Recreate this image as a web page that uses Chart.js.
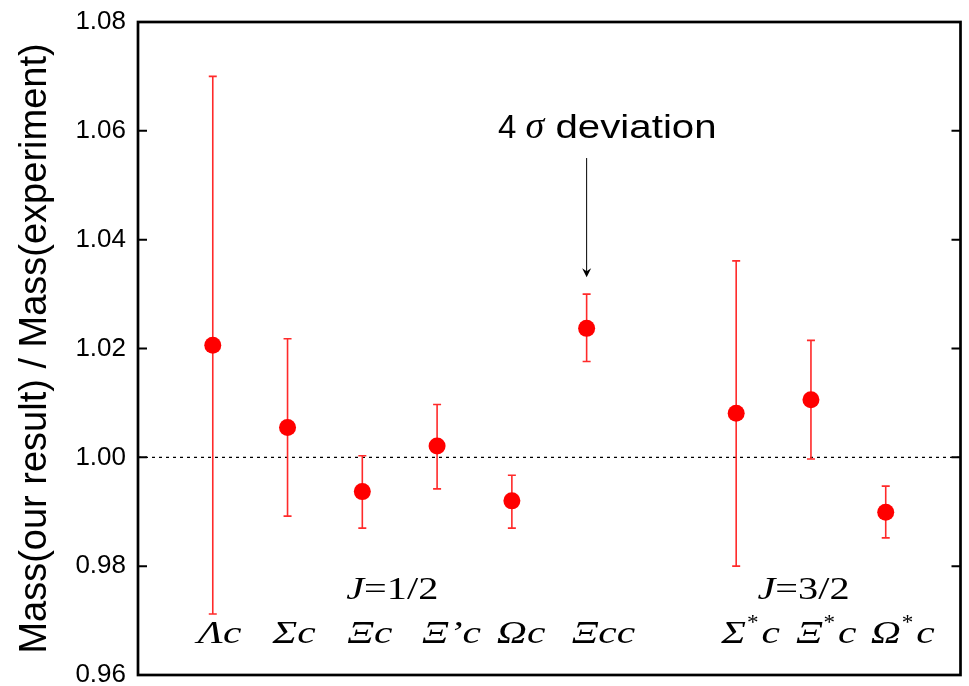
<!DOCTYPE html>
<html>
<head>
<meta charset="utf-8">
<script src="https://cdn.jsdelivr.net/npm/chart.js@4.4.0/dist/chart.umd.min.js"></script>
<style>
html, body { margin: 0; padding: 0; background: #fff; }
</style>
</head>
<body>
<canvas id="chart" width="969" height="686"></canvas>
<script>
// baryon states and their slot on the x axis (gap between the J=1/2 and J=3/2 groups)
const states = ["Λc", "Σc", "Ξc", "Ξ’c", "Ωc", "Ξcc", "Σ*c", "Ξ*c", "Ω*c"];
const slots = [1, 2, 3, 4, 5, 6, 8, 9, 10];
const ratio = [1.0206, 1.0055, 0.9937, 1.0021, 0.9920, 1.0237, 1.0081, 1.0106, 0.9899];
const errHigh = [1.0700, 1.0218, 1.0003, 1.0097, 0.9967, 1.0300, 1.0361, 1.0215, 0.9947];
const errLow = [0.9712, 0.9892, 0.9870, 0.9942, 0.9870, 1.0176, 0.9800, 0.9997, 0.9852];
const yTicks = [0.96, 0.98, 1.00, 1.02, 1.04, 1.06, 1.08];
const groups = ["J=1/2", "J=3/2"];

const SERIF = '"Liberation Serif", "Times New Roman", serif';
const SANS = '"Liberation Sans", Arial, sans-serif';

// draw text squeezed/stretched horizontally, returns drawn width
function drawText(ctx, text, x, y, sx) {
    ctx.save();
    ctx.translate(x, y);
    ctx.scale(sx, 1);
    ctx.fillText(text, 0, 0);
    ctx.restore();
    return ctx.measureText(text).width * sx;
}

const extras = {
    id: 'extras',
    beforeDatasetsDraw(chart) {
        const { ctx, chartArea: a, scales: { x, y } } = chart;
        ctx.save();
        // reference line at 1
        const y1 = y.getPixelForValue(1);
        ctx.strokeStyle = '#000';
        ctx.lineWidth = 1.3;
        ctx.setLineDash([3, 4]);
        ctx.beginPath();
        ctx.moveTo(a.left, y1);
        ctx.lineTo(a.right, y1);
        ctx.stroke();
        ctx.setLineDash([]);

        // error bars
        ctx.strokeStyle = '#ff2a2a';
        ctx.lineWidth = 1.6;
        slots.forEach((s, i) => {
            const px = x.getPixelForValue(s);
            const top = y.getPixelForValue(errHigh[i]);
            const bot = y.getPixelForValue(errLow[i]);
            ctx.beginPath();
            ctx.moveTo(px, top); ctx.lineTo(px, bot);
            ctx.moveTo(px - 4, top); ctx.lineTo(px + 4, top);
            ctx.moveTo(px - 4, bot); ctx.lineTo(px + 4, bot);
            ctx.stroke();
        });
        ctx.restore();
    },
    afterDraw(chart) {
        const { ctx, chartArea: a, scales: { x, y } } = chart;
        ctx.save();
        // frame with inward ticks on both sides
        ctx.strokeStyle = '#000';
        ctx.lineWidth = 2.7;
        ctx.strokeRect(a.left, a.top, a.right - a.left, a.bottom - a.top);
        ctx.lineWidth = 2;
        yTicks.forEach(v => {
            const py = y.getPixelForValue(v);
            ctx.beginPath();
            ctx.moveTo(a.left, py); ctx.lineTo(a.left + 9, py);
            ctx.moveTo(a.right - 9, py); ctx.lineTo(a.right, py);
            ctx.stroke();
        });

        // state names
        ctx.fillStyle = '#000';
        ctx.textBaseline = 'alphabetic';
        ctx.textAlign = 'left';
        const sx = 1.3;
        states.forEach((name, i) => {
            let px = x.getPixelForValue(slots[i]) - 15;
            const py = 643;
            const parts = name.split('*');
            ctx.font = 'italic 32px ' + SERIF;
            px += drawText(ctx, parts[0], px, py, sx);
            if (parts.length > 1) {
                ctx.font = '21px ' + SERIF;
                px += drawText(ctx, '*', px + 1, py - 14, 1.1) + 4;
                ctx.font = 'italic 32px ' + SERIF;
                drawText(ctx, parts[1], px, py, sx);
            }
        });

        // J labels
        [[3.4, groups[0]], [8.9, groups[1]]].forEach(([slot, txt]) => {
            const cx = x.getPixelForValue(slot);
            const py = 599;
            ctx.font = 'italic 31px ' + SERIF;
            const wJ = ctx.measureText('J').width * sx;
            ctx.font = '31px ' + SERIF;
            const wRest = ctx.measureText(txt.slice(1)).width * sx;
            let px = cx - (wJ + wRest) / 2;
            ctx.font = 'italic 31px ' + SERIF;
            px += drawText(ctx, 'J', px, py, sx);
            ctx.font = '31px ' + SERIF;
            drawText(ctx, txt.slice(1), px, py, sx);
        });

        // 4 sigma annotation
        const ax = x.getPixelForValue(6);
        let tx = 498;
        const ty = 138;
        ctx.font = '33px ' + SANS;
        tx += drawText(ctx, '4 ', tx, ty, 1.0);
        ctx.font = 'italic 38px ' + SERIF;
        tx += drawText(ctx, 'σ', tx, ty, 1.0);
        ctx.font = '33px ' + SANS;
        drawText(ctx, ' deviation', tx, ty, 1.22);

        const aTop = y.getPixelForValue(1.055);
        const aTip = y.getPixelForValue(1.0331);
        ctx.strokeStyle = '#000';
        ctx.lineWidth = 1;
        ctx.beginPath();
        ctx.moveTo(ax, aTop); ctx.lineTo(ax, aTip - 4);
        ctx.stroke();
        ctx.beginPath();
        ctx.moveTo(ax, aTip);
        ctx.lineTo(ax - 4.5, aTip - 9);
        ctx.lineTo(ax, aTip - 6);
        ctx.lineTo(ax + 4.5, aTip - 9);
        ctx.closePath();
        ctx.fill();
        ctx.restore();
    }
};

new Chart(document.getElementById("chart"), {
    type: 'scatter',
    data: {
        datasets: [{
            label: "Mass ratio",
            data: slots.map((s, i) => ({ x: s, y: ratio[i] })),
            backgroundColor: '#ff0000',
            borderWidth: 0,
            pointRadius: 8.5,
            pointHoverRadius: 8.5
        }]
    },
    options: {
        responsive: false,
        animation: false,
        devicePixelRatio: 1,
        layout: { padding: { top: 22, right: 5, bottom: 11, left: 0 } },
        plugins: {
            legend: { display: false },
            tooltip: { enabled: false }
        },
        scales: {
            x: { type: 'linear', min: 0, max: 11, display: false },
            y: {
                min: 0.96,
                max: 1.08,
                afterBuildTicks: (s) => { s.ticks = yTicks.map(v => ({ value: v })); },
                afterFit: (s) => {
                    s.width = 138;
                    s.paddingTop = 0;
                    s.paddingBottom = 0;
                },
                grid: { display: false, drawTicks: false },
                border: { display: false },
                ticks: {
                    color: '#000',
                    padding: 12,
                    font: { family: SANS, size: 26 },
                    callback: (v) => v.toFixed(2)
                },
                title: {
                    display: true,
                    text: 'Mass(our result) / Mass(experiment)',
                    color: '#000',
                    padding: { top: 13, bottom: 0 },
                    font: { family: SANS, size: 38 }
                }
            }
        }
    },
    plugins: [extras]
});
</script>
</body>
</html>
